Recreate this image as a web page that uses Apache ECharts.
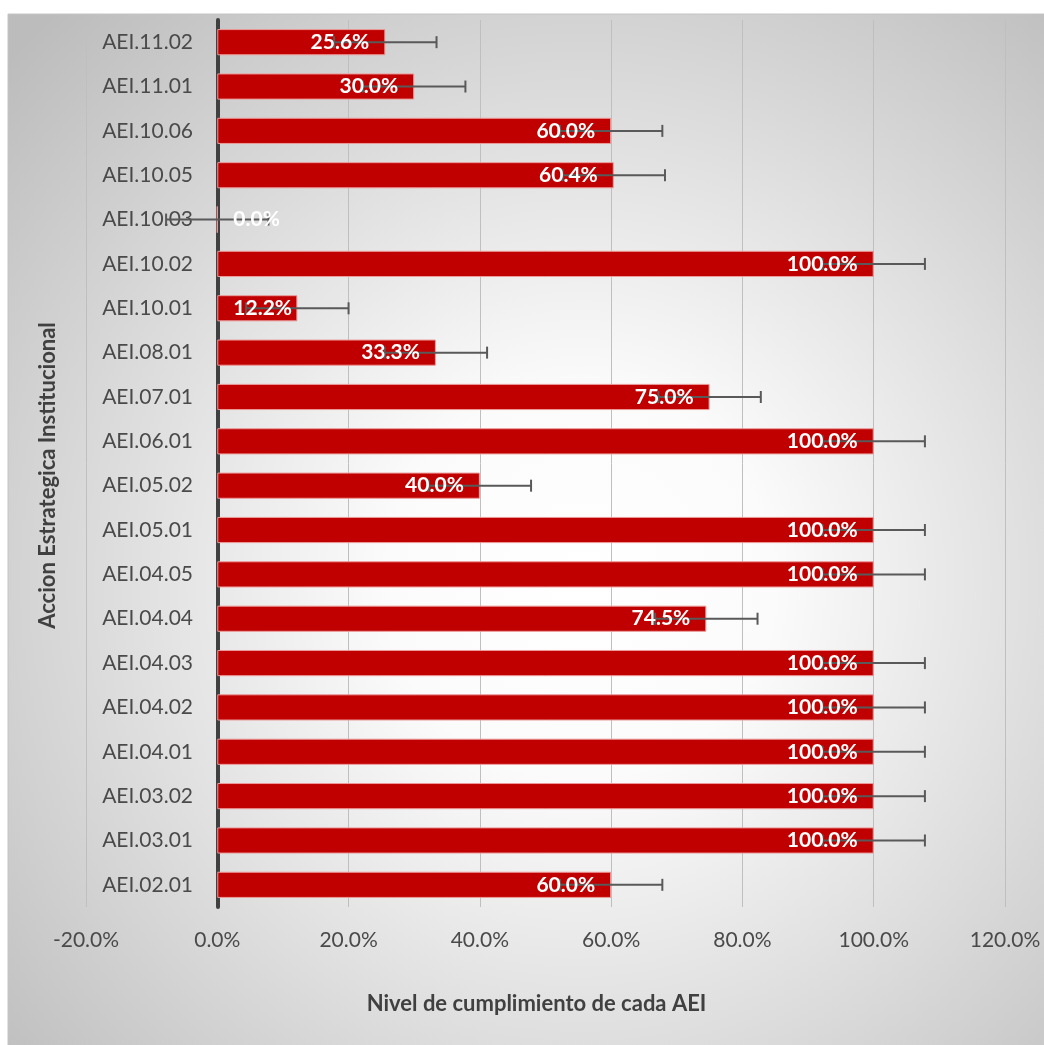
<!DOCTYPE html>
<html>
<head>
<meta charset="utf-8">
<script src="https://cdn.jsdelivr.net/npm/echarts@6/dist/echarts.min.js"></script>
<style>
html,body{margin:0;padding:0;background:#fff;}
#chart{width:1044px;height:1045px;}
</style>
</head>
<body>
<div id="chart"></div>
<script>
const categories = ['AEI.02.01','AEI.03.01','AEI.03.02','AEI.04.01','AEI.04.02','AEI.04.03','AEI.04.04','AEI.04.05','AEI.05.01','AEI.05.02','AEI.06.01','AEI.07.01','AEI.08.01','AEI.10.01','AEI.10.02','AEI.10.03','AEI.10.05','AEI.10.06','AEI.11.01','AEI.11.02'];
const values = [60.0,100.0,100.0,100.0,100.0,100.0,74.5,100.0,100.0,40.0,100.0,75.0,33.3,12.2,100.0,0.0,60.4,60.0,30.0,25.6];
const errors = [7.8,7.8,7.8,7.8,7.8,7.8,7.8,7.8,7.8,7.8,7.8,7.8,7.8,7.8,7.8,7.8,7.8,7.8,7.8,7.8];
const xTicks = [-20,0,20,40,60,80,100,120];

const FONT = 'Lato';
const chart = echarts.init(document.getElementById('chart'), null, {renderer:'canvas'});

const labelData = values.map((v, i) => {
  const item = {value: v};
  if (v === 0) item.label = {position: 'right', distance: 16};
  else if (v < 15) item.label = {position: 'insideLeft', distance: 16};
  return item;
});

chart.setOption({
  animation: false,
  graphic: [{
    type: 'rect', z: -10, silent: true,
    shape: {x: 8, y: 14, width: 1040, height: 1035},
    style: {
      fill: new echarts.graphic.RadialGradient(0.55, 0.55, 0.75, [
        {offset: 0, color: '#ffffff'},
        {offset: 0.25, color: '#fbfbfb'},
        {offset: 1, color: '#bcbcbc'}
      ]),
      stroke: '#c4c4c4', lineWidth: 1
    }
  }],
  grid: {left: 86, right: 39, top: 20, bottom: 138, containLabel: false, outerBoundsMode: 'none'},
  xAxis: {
    type: 'value', min: xTicks[0], max: xTicks[xTicks.length-1], interval: 20,
    axisLine: {show: false}, axisTick: {show: false},
    splitLine: {show: true, lineStyle: {color: '#bfbfbf', width: 1}},
    axisLabel: {formatter: v => v.toFixed(1) + '%', fontFamily: FONT, fontSize: 21, color: '#4a4a4a', margin: 23},
    name: 'Nivel de cumplimiento de cada AEI', nameLocation: 'middle', nameGap: 86,
    nameTextStyle: {fontFamily: FONT, fontSize: 22, fontWeight: 'bold', color: '#404040', padding: [0, 18, 0, 0]}
  },
  yAxis: {
    type: 'category', data: categories,
    axisLine: {show: true, onZero: true, lineStyle: {color: '#404040', width: 4}},
    axisTick: {show: false},
    axisLabel: {fontFamily: FONT, fontSize: 21, color: '#4a4a4a', margin: -107},
    name: 'Accion Estrategica Institucional', nameLocation: 'middle', nameRotate: 90, nameGap: 27,
    nameTextStyle: {fontFamily: FONT, fontSize: 22, fontWeight: 'bold', color: '#404040', padding: [0, 24, 0, 0]}
  },
  series: [{
    type: 'bar', data: values, barCategoryGap: '41%',
    itemStyle: {color: '#c00000', borderColor: '#ec9a9a', borderWidth: 1},
    label: {show: false},
    z: 2
  }, {
    type: 'custom', z: 5,
    data: values.map((v, i) => [v, i, errors[i]]),
    encode: {x: 0, y: 1},
    renderItem: function (params, api) {
      const v = api.value(0), idx = api.value(1), e = api.value(2);
      const p1 = api.coord([v - e, idx]);
      const p2 = api.coord([v + e, idx]);
      const h = 6;
      const st = {stroke: '#595959', lineWidth: 2};
      return {type: 'group', children: [
        {type: 'line', shape: {x1: p1[0], y1: p1[1], x2: p2[0], y2: p2[1]}, style: st},
        {type: 'line', shape: {x1: p1[0], y1: p1[1]-h, x2: p1[0], y2: p1[1]+h}, style: st},
        {type: 'line', shape: {x1: p2[0], y1: p2[1]-h, x2: p2[0], y2: p2[1]+h}, style: st}
      ]};
    }
  }, {
    type: 'bar', data: labelData, barGap: '-100%', barCategoryGap: '41%',
    itemStyle: {color: 'rgba(0,0,0,0)'},
    label: {show: true, position: 'insideRight', distance: 16, formatter: p => p.value.toFixed(1) + '%',
      fontFamily: FONT, fontSize: 21, fontWeight: 'bold', color: '#ffffff'},
    z: 10
  }]
});
</script>
</body>
</html>
